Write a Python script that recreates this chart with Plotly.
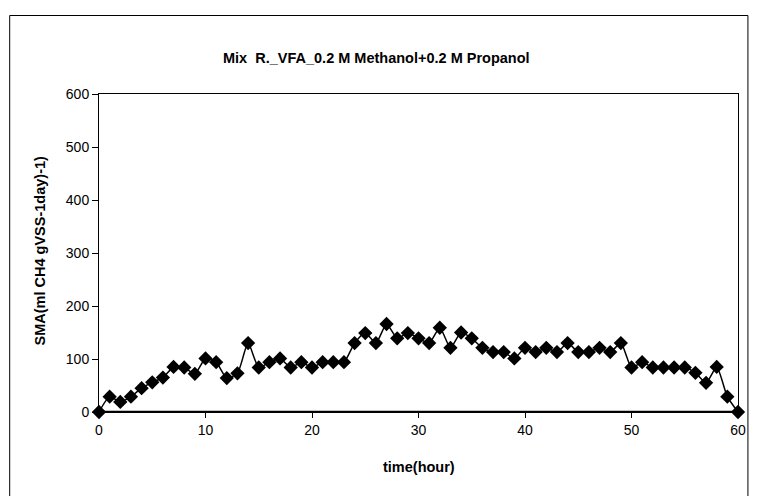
import plotly.graph_objects as go

hours = list(range(0, 61))
sma = [0, 29, 19, 29, 45, 56, 65, 85, 84, 72,
       101, 94, 64, 73, 130, 84, 94, 101, 84, 94,
       84, 94, 94, 94, 130, 149, 130, 166, 139, 149,
       139, 130, 159, 121, 150, 139, 121, 113, 113, 101,
       121, 113, 121, 113, 130, 113, 113, 121, 113, 130,
       84, 94, 84, 84, 84, 84, 74, 55, 85, 29, 0]

title_text = "Mix  R._VFA_0.2 M Methanol+0.2 M Propanol"
x_title = "time(hour)"
y_title = "SMA(ml CH4 gVSS-1day)-1)"
x_ticks = [0, 10, 20, 30, 40, 50, 60]
y_ticks = [0, 100, 200, 300, 400, 500, 600]

FONT = "Liberation Sans, Arial, sans-serif"

fig = go.Figure()
fig.add_trace(go.Scatter(
    x=hours, y=sma, mode="lines+markers",
    line=dict(color="black", width=1.5, shape="spline", smoothing=0.6),
    marker=dict(symbol="diamond", size=11, color="black"),
    cliponaxis=False, showlegend=False,
))

W, H = 758, 496
L, R, T, B = 99, 15, 94, 84
pw, ph = W - L - R, H - T - B

def px(xp):
    return (xp - L) / pw

def py(yp):
    return (H - B - yp) / ph

fig.update_layout(
    width=W, height=H,
    margin=dict(l=L, r=R, t=T, b=B),
    paper_bgcolor="white", plot_bgcolor="white",
    font=dict(family=FONT, size=14, color="black"),
    xaxis=dict(range=[0, 60], tickvals=x_ticks, ticks="outside", ticklen=5,
               tickcolor="black", showgrid=False, zeroline=False,
               showline=True, linecolor="black", linewidth=1, mirror=True,
               tickfont=dict(size=14)),
    yaxis=dict(range=[0, 600], tickvals=y_ticks, ticks="outside", ticklen=6,
               tickcolor="black", showgrid=False, zeroline=False,
               showline=True, linecolor="black", linewidth=1, mirror=True,
               tickfont=dict(size=14)),
    shapes=[
        dict(type="rect", xref="paper", yref="paper",
             x0=px(9), x1=px(753), y0=py(500), y1=py(15.5),
             line=dict(color="black", width=1), fillcolor="rgba(0,0,0,0)", layer="below"),
        dict(type="line", xref="x", yref="y", x0=0, x1=60, y0=0, y1=0,
             line=dict(color="black", width=2.5), layer="below"),
    ],
    annotations=[
        dict(text="<b>" + title_text + "</b>", xref="paper", yref="paper",
             x=px(379), y=py(58), xanchor="center", yanchor="middle",
             showarrow=False, font=dict(size=14.5)),
        dict(text="<b>" + x_title + "</b>", xref="paper", yref="paper",
             x=px(421), y=py(467), xanchor="center", yanchor="middle",
             showarrow=False, font=dict(size=14.5)),
        dict(text="<b>" + y_title + "</b>", xref="paper", yref="paper",
             x=px(40), y=py(250), xanchor="center", yanchor="middle",
             textangle=-90, showarrow=False, font=dict(size=14.5)),
    ],
)

fig.write_html(
    "out.html",
    config={"displayModeBar": False},
    post_script="document.documentElement.style.margin='0';"
                "document.body.style.margin='0';"
                "document.body.style.overflow='hidden';",
)
